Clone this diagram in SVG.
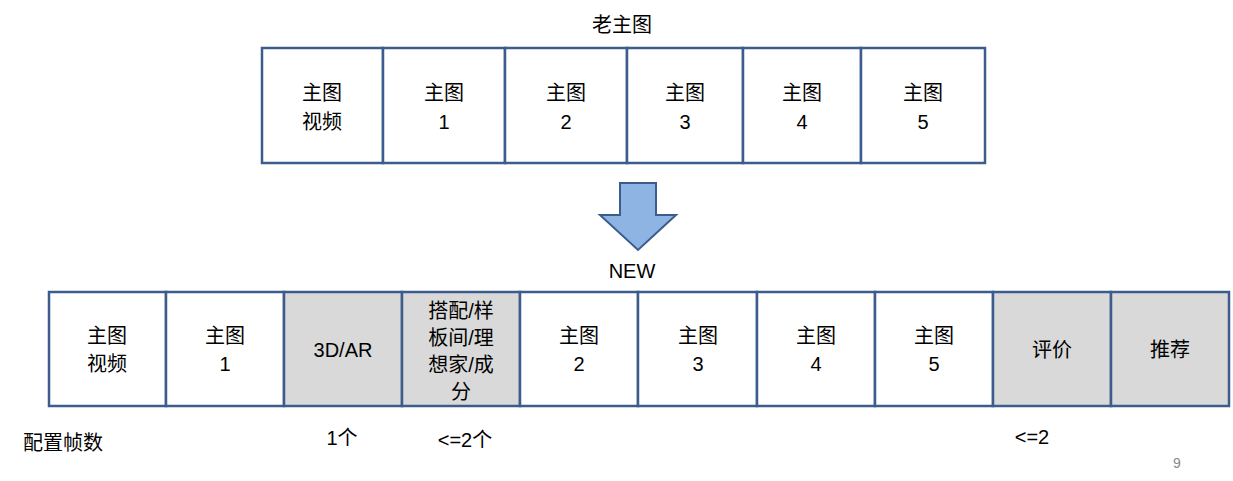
<svg xmlns="http://www.w3.org/2000/svg" width="1233" height="481" viewBox="0 0 1233 481">
<style>
.b{fill:#fff;stroke:#3B5C8C;stroke-width:2.5}
.g{fill:#D9D9D9;stroke:#3B5C8C;stroke-width:2.5}
text{font-family:"Liberation Sans","Noto Sans CJK SC",sans-serif;font-size:20px;fill:#000;text-anchor:middle}
</style>
<rect width="1233" height="481" fill="#fff"/>
<text x="622" y="32">老主图</text>
<g id="top">
<g id="t0"><rect class="b" x="262" y="48" width="121" height="115"/><text x="322" y="100">主图</text><text x="322" y="129">视频</text></g>
<g id="t1"><rect class="b" x="383" y="48" width="122" height="115"/><text x="444" y="100">主图</text><text x="444" y="129">1</text></g>
<g id="t2"><rect class="b" x="505" y="48" width="122" height="115"/><text x="566" y="100">主图</text><text x="566" y="129">2</text></g>
<g id="t3"><rect class="b" x="627" y="48" width="116" height="115"/><text x="685" y="100">主图</text><text x="685" y="129">3</text></g>
<g id="t4"><rect class="b" x="743" y="48" width="118" height="115"/><text x="802" y="100">主图</text><text x="802" y="129">4</text></g>
<g id="t5"><rect class="b" x="861" y="48" width="124" height="115"/><text x="923" y="100">主图</text><text x="923" y="129">5</text></g>
</g>
<g id="connectors">
<path d="M620,183 H656 V215 H676 L638,250 L600,215 H620 Z" fill="#8EB4E3" stroke="#3B5C8C" stroke-width="2"/>
</g>
<text x="632" y="278">NEW</text>
<g id="bottom">
<g id="b0"><rect class="b" x="49" y="292" width="117" height="114"/><text x="107" y="343">主图</text><text x="107" y="371">视频</text></g>
<g id="b1"><rect class="b" x="166" y="292" width="118" height="114"/><text x="225" y="343">主图</text><text x="225" y="371">1</text></g>
<g id="b2"><rect class="g" x="284" y="292" width="118" height="114"/><text x="343" y="357">3D/AR</text></g>
<g id="b3"><rect class="g" x="402" y="292" width="118" height="114"/><text x="461" y="318">搭配/样</text><text x="461" y="345">板间/理</text><text x="461" y="372">想家/成</text><text x="461" y="399">分</text></g>
<g id="b4"><rect class="b" x="520" y="292" width="118" height="114"/><text x="579" y="343">主图</text><text x="579" y="371">2</text></g>
<g id="b5"><rect class="b" x="638" y="292" width="119" height="114"/><text x="698" y="343">主图</text><text x="698" y="371">3</text></g>
<g id="b6"><rect class="b" x="757" y="292" width="118" height="114"/><text x="816" y="343">主图</text><text x="816" y="371">4</text></g>
<g id="b7"><rect class="b" x="875" y="292" width="118" height="114"/><text x="934" y="343">主图</text><text x="934" y="371">5</text></g>
<g id="b8"><rect class="g" x="993" y="292" width="118" height="114"/><text x="1052" y="357">评价</text></g>
<g id="b9"><rect class="g" x="1111" y="292" width="118" height="114"/><text x="1170" y="357">推荐</text></g>
</g>
<text x="63" y="450">配置帧数</text>
<text x="342" y="445">1个</text>
<text x="465" y="447">&lt;=2个</text>
<text x="1032" y="444">&lt;=2</text>
<text x="1177" y="468" style="font-size:14px;fill:#888">9</text>
</svg>
